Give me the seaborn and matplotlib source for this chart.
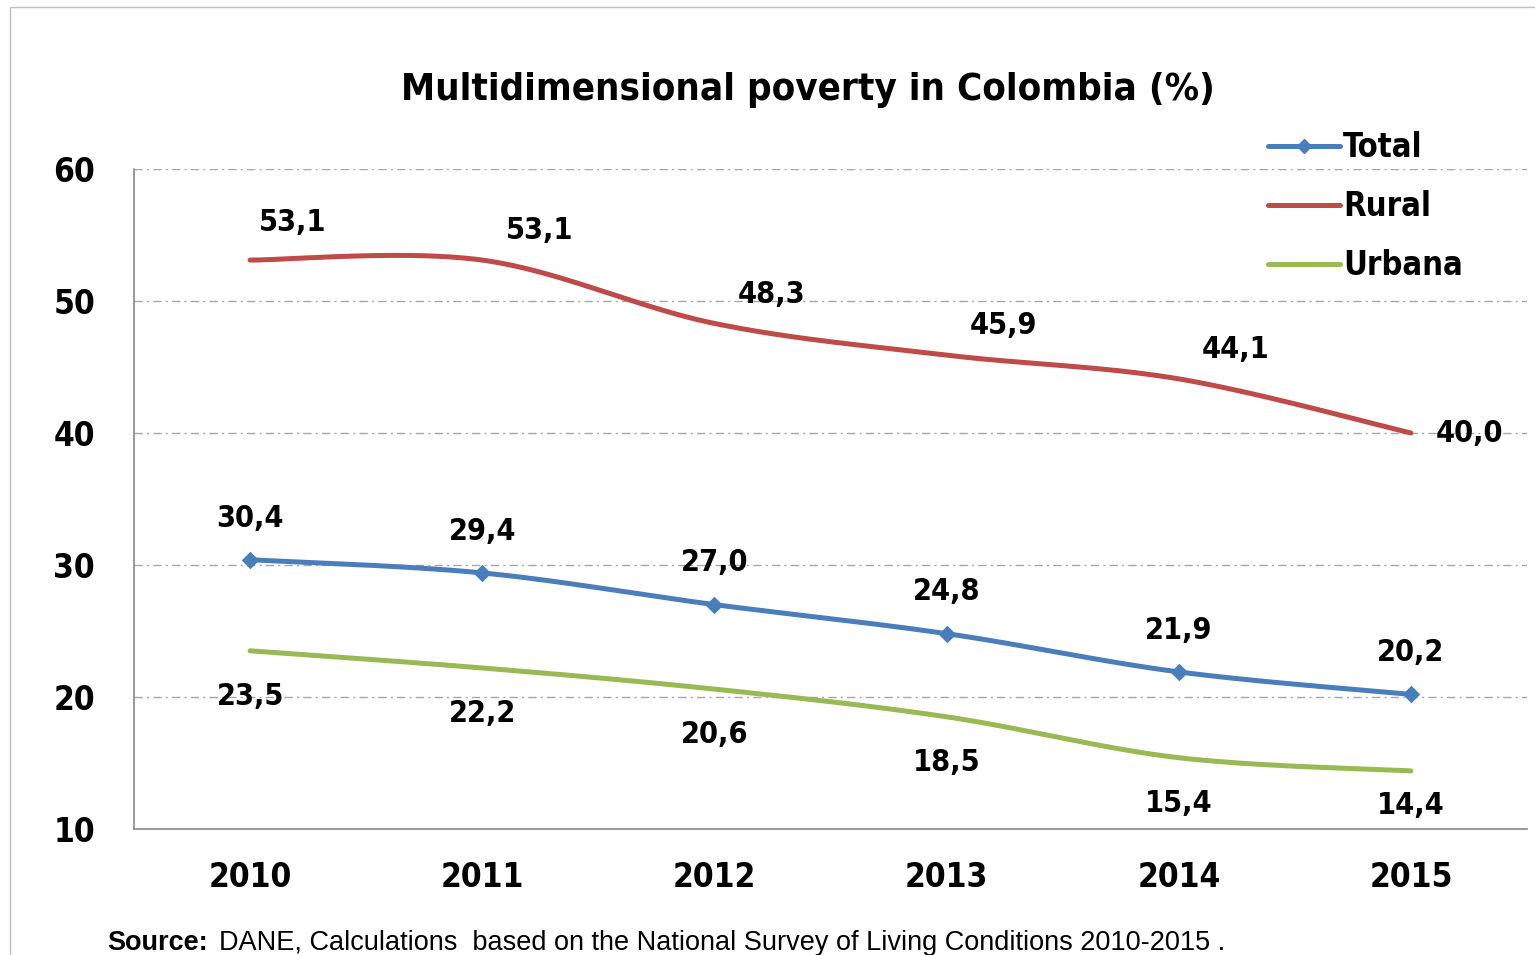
import numpy as np
import pandas as pd
import matplotlib
matplotlib.use("Agg")
import matplotlib.pyplot as plt
from matplotlib.lines import Line2D
from matplotlib.patches import Rectangle
import seaborn as sns

# === data ===
years = ["2010", "2011", "2012", "2013", "2014", "2015"]
total = [30.4, 29.4, 27.0, 24.8, 21.9, 20.2]
rural = [53.1, 53.1, 48.3, 45.9, 44.1, 40.0]
urbana = [23.5, 22.2, 20.6, 18.5, 15.4, 14.4]
series_names = ["Total", "Rural", "Urbana"]
y_ticks = [10, 20, 30, 40, 50, 60]

colors = {"Total": "#4A7EBB", "Rural": "#BE4B48", "Urbana": "#98B954"}
NARROW = ["DejaVu Sans"]


def smooth(xs, ys, n=40):
    # Excel-style smoothed line: cubic Bezier per segment, Catmull-Rom control points
    p = np.column_stack([xs, ys]).astype(float)
    ext = np.vstack([p[0], p, p[-1]])
    out = []
    t = np.linspace(0, 1, n)[:, None]
    for i in range(len(p) - 1):
        p0, p3 = ext[i + 1], ext[i + 2]
        c1 = p0 + (ext[i + 2] - ext[i]) / 6.0
        c2 = p3 - (ext[i + 3] - ext[i + 1]) / 6.0
        seg = ((1 - t) ** 3) * p0 + 3 * ((1 - t) ** 2) * t * c1 + 3 * (1 - t) * t ** 2 * c2 + t ** 3 * p3
        out.append(seg if i == 0 else seg[1:])
    out = np.vstack(out)
    return out[:, 0], out[:, 1]


xpos = np.arange(len(years))
values = {"Total": total, "Rural": rural, "Urbana": urbana}

frames = []
for name in series_names:
    sx, sy = smooth(xpos, values[name])
    frames.append(pd.DataFrame({"x": sx, "y": sy, "series": name}))
curve_df = pd.concat(frames, ignore_index=True)
points_df = pd.DataFrame({"x": xpos, "y": total})

sns.set_style("white")
plt.rcParams["font.family"] = NARROW
plt.rcParams["font.stretch"] = "condensed"
plt.rcParams["text.color"] = "black"
plt.rcParams["xtick.color"] = "#868686"
plt.rcParams["ytick.color"] = "#868686"
plt.rcParams["xtick.labelcolor"] = "black"
plt.rcParams["ytick.labelcolor"] = "black"

fig = plt.figure(figsize=(15.35, 9.55), dpi=100)
ax = fig.add_axes([134 / 1535, 1 - 829 / 955, (1527 - 134) / 1535, (829 - 169) / 955])

sns.lineplot(data=curve_df, x="x", y="y", hue="series", hue_order=series_names,
             palette=colors, sort=False, estimator=None, linewidth=3.6,
             legend=False, ax=ax, zorder=3)
sns.scatterplot(data=points_df, x="x", y="y", marker="D", s=80, color=colors["Total"],
                edgecolor=colors["Total"], linewidth=0, legend=False, ax=ax, zorder=4)

# === axes ===
ax.set_xlim(-0.5, len(years) - 0.5)
ax.set_ylim(10, 60)
ax.set_yticks(y_ticks)
ax.set_yticklabels([str(v) for v in y_ticks], fontsize=24, fontweight="bold")
ax.set_xticks(xpos)
ax.set_xticklabels(years, fontsize=24, fontweight="bold")
ax.set_xticks(np.arange(-0.5, len(years), 1.0), minor=True)
ax.tick_params(axis="x", which="major", length=0, pad=23)
ax.tick_params(axis="x", which="minor", length=9, width=1.2, direction="out")
ax.tick_params(axis="y", which="major", length=9, width=1.2, direction="out", pad=19)
ax.set_xlabel("")
ax.set_ylabel("")
for side in ["top", "right"]:
    ax.spines[side].set_visible(False)
for side in ["left", "bottom"]:
    ax.spines[side].set_color("#868686")
    ax.spines[side].set_linewidth(1.2)
for v in y_ticks[1:]:
    ax.axhline(v, color="#A6A6A6", linewidth=1.0, linestyle=(0, (6, 3, 1.5, 3)), zorder=1)

# === data labels ===
lab_kw = dict(textcoords="offset points", fontsize=22, fontweight="bold",
              ha="center", va="center", zorder=5)
for i, v in enumerate(total):
    ax.annotate(f"{v:.1f}".replace(".", ","), (xpos[i], v), xytext=(0, 30), **lab_kw)
for i, v in enumerate(urbana):
    dy = -25 if i == len(urbana) - 1 else -33
    ax.annotate(f"{v:.1f}".replace(".", ","), (xpos[i], v), xytext=(0, dy), **lab_kw)
for i, v in enumerate(rural):
    if i == len(rural) - 1:
        off = (42, 0)
    elif i == 0:
        off = (31, 27)
    else:
        off = (41, 21)
    ax.annotate(f"{v:.1f}".replace(".", ","), (xpos[i], v), xytext=off, **lab_kw)

# === legend ===
handles = [
    Line2D([], [], color=colors["Total"], lw=3.6, marker="D", markersize=7),
    Line2D([], [], color=colors["Rural"], lw=3.6),
    Line2D([], [], color=colors["Urbana"], lw=3.6),
]
fig.legend(handles, series_names, loc="upper left",
           bbox_to_anchor=(1255 / 1535, 1 - 118 / 955), frameon=False,
           prop={"family": NARROW, "weight": "bold", "size": 23.5, "stretch": "condensed"},
           handlelength=2.2, handletextpad=0.1, labelspacing=0.8, borderaxespad=0)

# === title, source, frame ===
fig.text(808 / 1535, 1 - 90 / 955, "Multidimensional poverty in Colombia (%)",
         ha="center", va="center", fontsize=27.5, fontweight="bold")
fig.text(107 / 1535, 1 - 943 / 955, "Source:", ha="left", va="center", fontstretch="normal",
         fontsize=19.5, fontweight="bold", family=["Liberation Sans", "DejaVu Sans"])
fig.text(219 / 1535, 1 - 943 / 955,
         "DANE, Calculations  based on the National Survey of Living Conditions 2010-2015 .",
         ha="left", va="center", fontsize=19.5, fontstretch="normal",
         family=["Liberation Sans", "DejaVu Sans"])
fig.patches.append(Rectangle((10 / 1535, -0.1), 1.2, 1.1 - 7 / 955, transform=fig.transFigure,
                             fill=False, edgecolor="#BFBFBF", linewidth=1.0))

fig.savefig("out.png", dpi=100)
